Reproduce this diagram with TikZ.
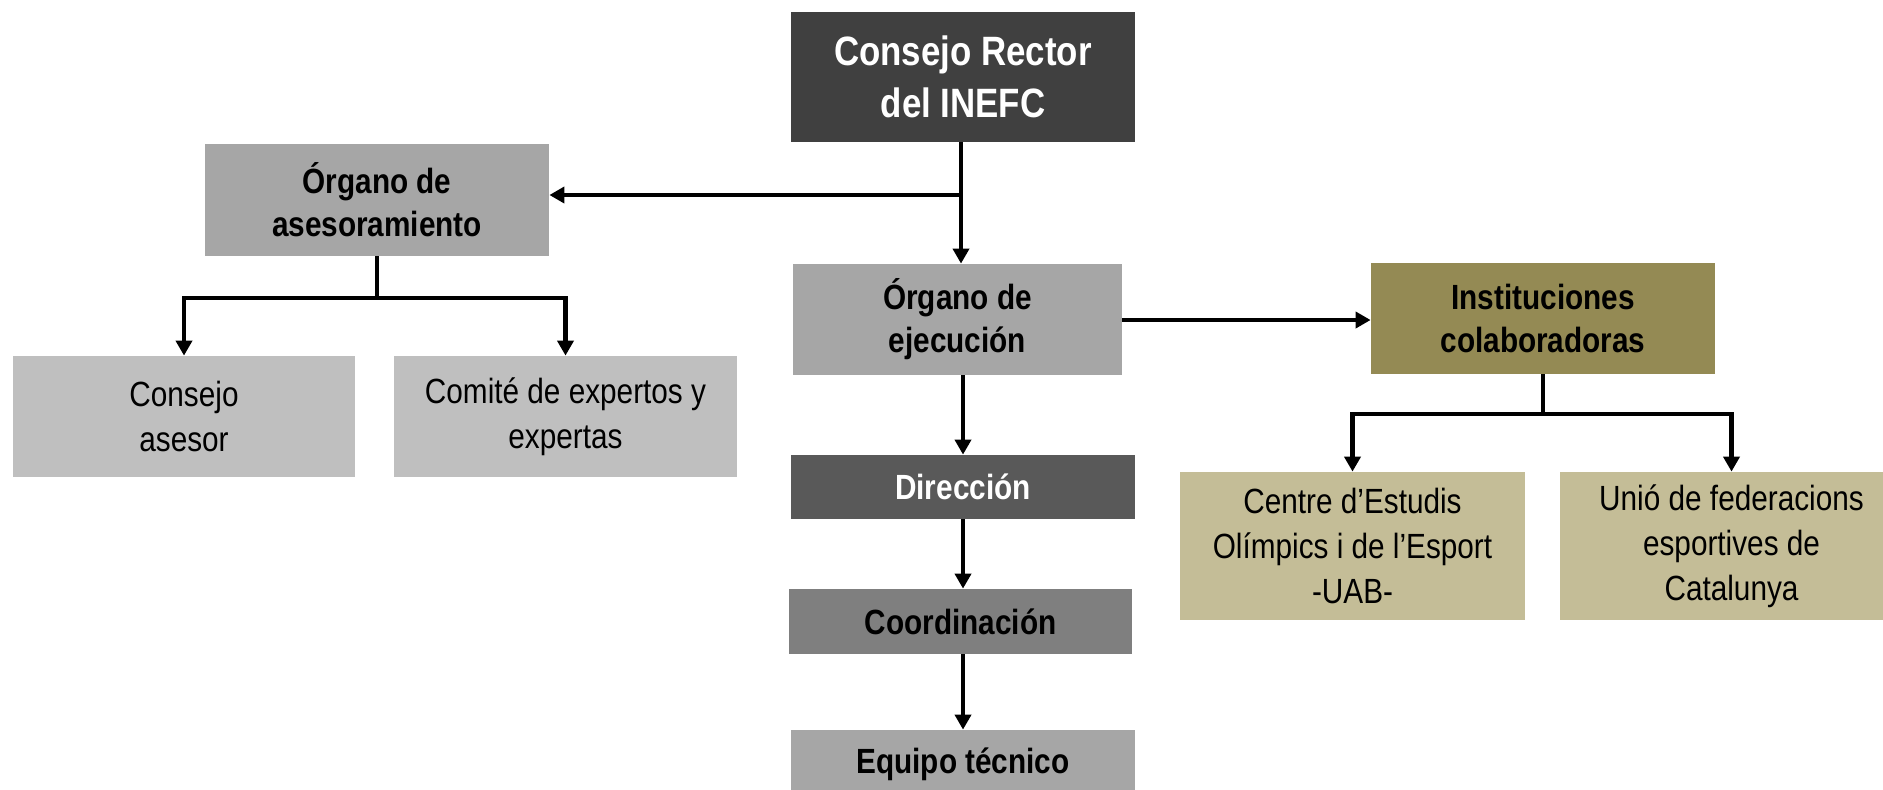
\documentclass[tikz,border=0pt]{standalone}
\usepackage{fontspec}
\setmainfont{Liberation Sans}[FakeStretch=0.85]
\usetikzlibrary{arrows.meta}
\definecolor{cRector}{HTML}{404040}
\definecolor{cGrayA}{HTML}{A6A6A6}
\definecolor{cGrayL}{HTML}{BFBFBF}
\definecolor{cDir}{HTML}{595959}
\definecolor{cCoord}{HTML}{7F7F7F}
\definecolor{cOlive}{HTML}{948A54}
\definecolor{cSand}{HTML}{C4BD97}
\tikzset{
  box/.style={rectangle, inner sep=0pt, align=center, text=black},
  bold/.style={font=\fontsize{17.5}{21.5}\selectfont\bfseries},
  reg/.style={font=\fontsize{17.5}{22.5}\selectfont},
  ln/.style={line width=2.1pt, draw=black},
  arr/.style={ln, -{Triangle[length=7.5pt,width=8pt]}},
  arrthick/.style={line width=2.1pt, draw=black, -{Triangle[length=7.5pt,width=8pt]}},
  bar/.style={line width=2.4pt, draw=black, line cap=rect},
}
\begin{document}
\begin{tikzpicture}[x=0.5pt,y=-0.5pt]
\fill[white] (0,0) rectangle (1883,789);
\useasboundingbox (0,0) rectangle (1883,789);

\node[box, fill=cRector, text=white, minimum width=172pt, minimum height=65pt,
      font=\fontsize{20.5}{26}\selectfont\bfseries] (rector) at (963,77) {Consejo Rector\\del INEFC};
\node[box, bold, fill=cGrayA, minimum width=172pt, minimum height=56pt] (ases) at (377,200) {Órgano de\\asesoramiento};
\node[box, bold, fill=cGrayA, minimum width=164.5pt, minimum height=55.5pt] (ejec) at (957.5,319.5) {Órgano de\\ejecución};
\node[box, bold, fill=cOlive, minimum width=172pt, minimum height=55.5pt] (inst) at (1543,318.5) {Instituciones\\colaboradoras};
\node[box, reg, fill=cGrayL, minimum width=171pt, minimum height=60.5pt] (cas) at (184,416.5) {Consejo\\asesor};
\node[box, reg, fill=cGrayL, minimum width=171.5pt, minimum height=60.5pt] (com) at (565.5,416.5) {Comité de expertos y\\expertas};
\node[box, bold, fill=cDir, text=white, minimum width=172pt, minimum height=32pt] (dir) at (963,487) {Dirección};
\node[box, bold, fill=cCoord, minimum width=171.5pt, minimum height=32.5pt] (coord) at (960.5,621.5) {Coordinación};
\node[box, bold, fill=cGrayA, minimum width=172pt, minimum height=34pt] (equipo) at (963,764) {Equipo técnico};
\node[box, reg, fill=cSand, minimum width=172.5pt, minimum height=74pt] (centre) at (1352.5,546) {Centre d’Estudis\\Olímpics i de l’Esport\\-UAB-};
\node[box, reg, fill=cSand, minimum width=171.5pt, minimum height=74pt] (unio) at (1731.5,546) {Unió de federacions\\esportives de\\Catalunya};

% trunk from Consejo Rector
\coordinate (jA) at (961,195);
\draw[arr] (rector.south -| jA) -- (ejec.north -| jA);
\draw[arrthick] (jA) -- (ases.east |- jA);

% asesoramiento children
\coordinate (bA) at (377,298);
\draw[ln] (ases.south) -- (bA);
\draw[bar] (cas.north |- bA) -- (com.north |- bA);
\draw[arr] (cas.north |- bA) -- (cas.north);
\draw[arr] (com.north |- bA) -- (com.north);

% ejecucion
\draw[arrthick] (ejec.east |- 0,320) -- (inst.west |- 0,320);
\draw[arr] (ejec.south -| dir.north) -- (dir.north);
\draw[arr] (dir.south) -- (coord.north -| dir.south);
\draw[arr] (coord.south -| equipo.north) -- (equipo.north);

% instituciones children
\coordinate (bI) at (1543,414);
\draw[ln] (inst.south) -- (bI);
\draw[bar] (centre.north |- bI) -- (unio.north |- bI);
\draw[arr] (centre.north |- bI) -- (centre.north);
\draw[arr] (unio.north |- bI) -- (unio.north);
\end{tikzpicture}
\end{document}
